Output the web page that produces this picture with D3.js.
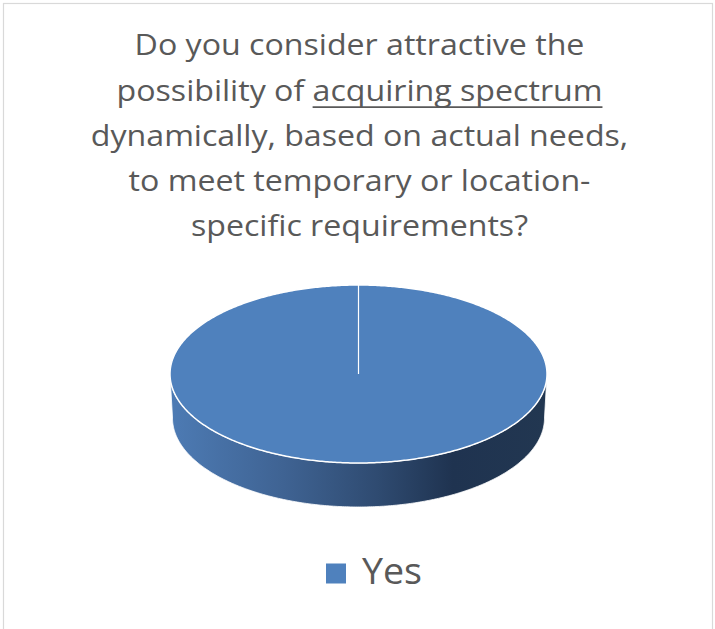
<!DOCTYPE html>
<html>
<head>
<meta charset="utf-8">
<script src="https://cdn.jsdelivr.net/npm/d3@7"></script>
<style>
  html, body { margin: 0; padding: 0; background: #fff; }
  svg { display: block; }
</style>
</head>
<body>
<svg id="chart" width="715" height="629"></svg>
<script>
// ---- data ----
const categories = ["Yes"];
const values = [100];
const colors = ["#4f81bd"];
const titleLines = [
  [{t: "Do you consider attractive the"}],
  [{t: "possibility of "}, {t: "acquiring spectrum", u: true}],
  [{t: "dynamically, based on actual needs,"}],
  [{t: "to meet temporary or location-"}],
  [{t: "specific requirements?"}]
];

const W = 715, H = 629;
const svg = d3.select("#chart");
const FONT = "'Open Sans', 'Noto Sans', sans-serif";
const TEXT = "#595959";

// border
svg.append("rect")
  .attr("x", 3.5).attr("y", 3.5)
  .attr("width", 709).attr("height", 660)
  .attr("fill", "#fff").attr("stroke", "#d9d9d9").attr("stroke-width", 1.2);

// title
const tg = svg.append("g");
const lineEls = [];
titleLines.forEach((parts, i) => {
  const t = tg.append("text")
    .attr("text-anchor", "middle")
    .attr("font-family", FONT)
    .attr("font-size", 28.5)
    .attr("fill", TEXT)
    .attr("x", 0).attr("y", 55.5 + i * 45.1);
  parts.forEach(p => {
    const s = t.append("tspan").text(p.t);
    s.datum(p);
  });
  lineEls.push(t);
});
const w1 = lineEls[0].node().getComputedTextLength();
const sx = 450 / w1;
tg.attr("transform", `translate(359.5,0) scale(${sx},1)`);
// manual underline
lineEls.forEach((t, i) => {
  t.selectAll("tspan").each(function(p) {
    if (!p.u) return;
    const node = t.node();
    const full = node.textContent;
    const idx = full.indexOf(p.t);
    const start = node.getStartPositionOfChar(idx).x;
    const end = node.getEndPositionOfChar(idx + p.t.length - 1).x;
    tg.append("line")
      .attr("x1", start).attr("x2", end)
      .attr("y1", 55.5 + i * 45.1 + 6.5).attr("y2", 55.5 + i * 45.1 + 6.5)
      .attr("stroke", TEXT).attr("stroke-width", 1.8);
  });
});

// pie
const data = categories.map((c, i) => ({label: c, value: values[i]}));
const color = d3.scaleOrdinal().domain(categories).range(colors);
const pie = d3.pie().value(d => d.value).sort(null);
const arcs = pie(data);

const cx = 358.5, cy = 374, rx = 188.5, ry = 89;
const depth = 44, rxB = 186, ryB = 89;

const ell = (a, r1, r2, c2) => [cx + r1 * Math.sin(a), c2 - r2 * Math.cos(a)];
function arcPoints(a0, a1, r1, r2, c2) {
  const n = Math.max(2, Math.ceil(Math.abs(a1 - a0) / 0.01));
  const pts = [];
  for (let k = 0; k <= n; k++) pts.push(ell(a0 + (a1 - a0) * k / n, r1, r2, c2));
  return pts;
}
const line = d3.line();

const defs = svg.append("defs");
const grad = defs.append("linearGradient").attr("id", "side")
  .attr("gradientUnits", "userSpaceOnUse")
  .attr("x1", cx - rx).attr("x2", cx + rx).attr("y1", 0).attr("y2", 0);
[[0, "#4d7bb4"], [0.3, "#3f6393"], [0.55, "#2f4b71"], [0.75, "#1f3350"], [1, "#223751"]]
  .forEach(([o, c]) => grad.append("stop").attr("offset", o).attr("stop-color", c));

// side walls (visible front half)
arcs.forEach(d => {
  const s = Math.max(d.startAngle, Math.PI / 2);
  const e = Math.min(d.endAngle, 3 * Math.PI / 2);
  if (e <= s) return;
  const top = arcPoints(s, e, rx, ry, cy);
  const bot = arcPoints(e, s, rxB, ryB, cy + depth);
  svg.append("path")
    .attr("d", line(top.concat(bot)) + "Z")
    .attr("fill", "url(#side)")
    .attr("stroke", "#fff").attr("stroke-width", 1).attr("stroke-opacity", 0.8);
});

// top faces
arcs.forEach(d => {
  const pts = arcPoints(d.startAngle, d.endAngle, rx, ry, cy);
  const full = (d.endAngle - d.startAngle) >= 2 * Math.PI - 1e-6;
  svg.append("path")
    .attr("d", full ? line(pts) + "Z" : line([[cx, cy]].concat(pts)) + "Z")
    .attr("fill", color(d.data.label))
    .attr("stroke", "#fff").attr("stroke-width", 1.5);
  const p0 = ell(d.startAngle, rx, ry, cy);
  svg.append("line")
    .attr("x1", cx).attr("y1", cy).attr("x2", p0[0]).attr("y2", p0[1])
    .attr("stroke", "#fff").attr("stroke-width", 1.2);
});

// legend
const leg = svg.append("g").attr("transform", "translate(326,563.5)");
categories.forEach((c, i) => {
  leg.append("rect").attr("x", 0).attr("y", 0).attr("width", 20).attr("height", 20)
    .attr("fill", color(c));
  leg.append("text").attr("x", 36).attr("y", 20)
    .attr("font-family", FONT).attr("font-size", 36).attr("fill", TEXT)
    .attr("textLength", 60).attr("lengthAdjust", "spacingAndGlyphs")
    .text(c);
});
</script>
</body>
</html>
